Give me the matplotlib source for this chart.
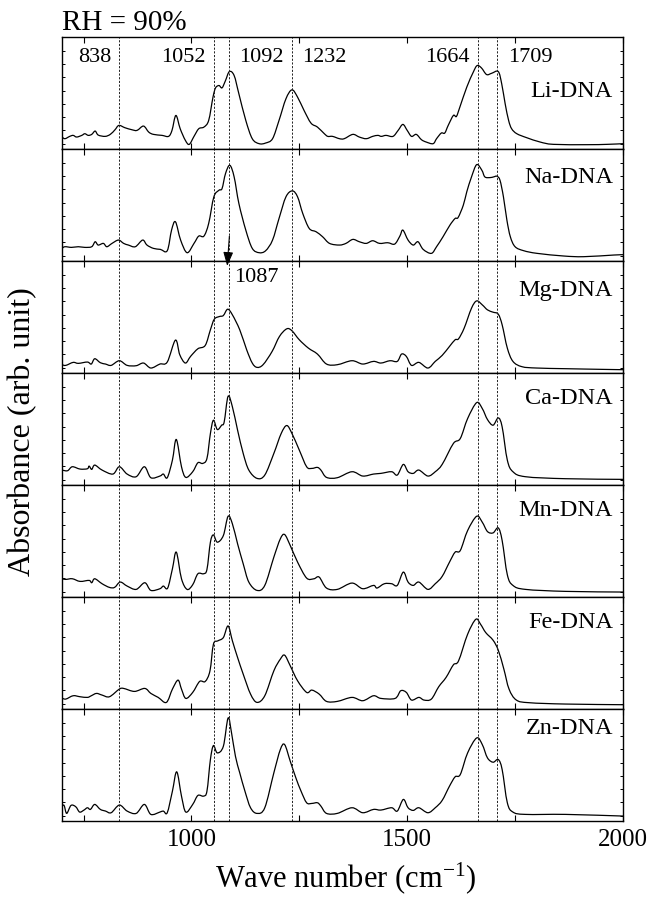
import matplotlib
matplotlib.use('Agg')
import matplotlib.pyplot as plt
from matplotlib.ticker import FixedLocator, NullFormatter
from matplotlib.path import Path
from matplotlib.patches import PathPatch

plt.rcParams['font.family'] = ['Liberation Serif', 'Times New Roman', 'DejaVu Serif']
plt.rcParams['mathtext.fontset'] = 'custom'
plt.rcParams['mathtext.rm'] = 'Liberation Serif'
plt.rcParams['mathtext.it'] = 'Liberation Serif:italic'

# ---- data: (wavenumber cm-1, absorbance arb. unit) ----
li_dna = [(700, 36), (707, 31), (718, 38), (726, 41), (734, 36), (746, 41), (753, 46), (761, 41), (769, 44),
          (777, 54), (784, 42), (800, 38), (812, 44), (823, 58), (832, 71), (846, 64), (862, 58), (874, 56),
          (889, 69), (901, 51), (912, 44), (932, 41), (947, 38), (955, 56), (964, 101), (974, 61), (986, 26),
          (995, 14), (1006, 38), (1017, 61), (1029, 66), (1040, 86), (1050, 156), (1056, 184), (1064, 191),
          (1071, 184), (1079, 206), (1088, 233), (1099, 221), (1110, 166), (1126, 86), (1141, 31), (1157, 16),
          (1172, 18), (1188, 31), (1203, 86), (1219, 151), (1233, 178), (1246, 156), (1261, 116), (1277, 78),
          (1292, 66), (1308, 46), (1316, 38), (1327, 38), (1343, 31), (1354, 31), (1374, 44), (1389, 36),
          (1405, 31), (1420, 38), (1432, 41), (1440, 38), (1451, 41), (1467, 38), (1479, 56), (1490, 74),
          (1500, 56), (1510, 38), (1521, 44), (1533, 28), (1544, 21), (1560, 16), (1568, 31), (1579, 48),
          (1587, 48), (1595, 71), (1607, 101), (1614, 98), (1622, 126), (1638, 186), (1653, 231), (1662, 251),
          (1672, 244), (1684, 224), (1696, 228), (1711, 233), (1719, 196), (1727, 136), (1735, 86), (1742, 61),
          (1754, 46), (1777, 34), (1808, 21), (1839, 14), (1917, 13), (1963, 14), (2000, 16)]

na_dna = [(700, 38), (707, 43), (722, 41), (738, 43), (753, 41), (769, 43), (777, 58), (784, 48), (796, 53),
          (804, 43), (816, 53), (831, 63), (843, 53), (854, 48), (870, 43), (887, 63), (897, 48), (912, 38),
          (928, 35), (944, 31), (954, 93), (963, 118), (975, 63), (990, 25), (1006, 53), (1017, 75), (1029, 75),
          (1040, 113), (1052, 193), (1064, 213), (1071, 218), (1079, 263), (1089, 288), (1099, 253), (1110, 173),
          (1126, 93), (1141, 38), (1157, 25), (1172, 31), (1188, 63), (1203, 128), (1219, 193), (1234, 211),
          (1246, 193), (1258, 143), (1273, 98), (1289, 88), (1304, 73), (1320, 53), (1343, 48), (1358, 53),
          (1374, 65), (1389, 58), (1405, 53), (1420, 61), (1436, 53), (1455, 55), (1471, 51), (1483, 75),
          (1490, 93), (1502, 63), (1514, 48), (1525, 58), (1537, 35), (1556, 23), (1568, 43), (1583, 73),
          (1599, 108), (1611, 128), (1618, 131), (1630, 168), (1638, 208), (1649, 253), (1661, 290), (1673, 273),
          (1680, 253), (1692, 251), (1700, 253), (1708, 255), (1715, 243), (1723, 193), (1731, 123), (1739, 73),
          (1750, 43), (1770, 31), (1801, 23), (1863, 15), (1909, 13), (1979, 18), (2000, 19)]

mg_dna = [(700, 25), (709, 23), (726, 32), (738, 29), (759, 33), (768, 27), (776, 43), (789, 31), (801, 27),
          (814, 23), (833, 37), (851, 23), (872, 22), (889, 30), (906, 15), (927, 27), (944, 33), (963, 99),
          (973, 55), (986, 30), (998, 50), (1015, 73), (1032, 83), (1044, 130), (1053, 162), (1065, 170),
          (1074, 173), (1084, 192), (1095, 175), (1112, 130), (1128, 70), (1141, 30), (1152, 17), (1166, 25),
          (1187, 65), (1204, 110), (1221, 133), (1233, 127), (1250, 100), (1271, 75), (1292, 57), (1313, 27),
          (1338, 25), (1372, 37), (1397, 27), (1422, 35), (1439, 30), (1460, 37), (1477, 35), (1487, 57),
          (1498, 50), (1510, 23), (1527, 32), (1548, 15), (1565, 35), (1581, 53), (1598, 80), (1611, 100),
          (1619, 103), (1632, 135), (1649, 195), (1661, 217), (1674, 205), (1686, 190), (1699, 183), (1711, 177),
          (1720, 145), (1732, 75), (1745, 35), (1766, 19), (1800, 15), (1867, 13), (1951, 11), (2000, 10)]

ca_dna = [(700, 45), (713, 43), (724, 55), (742, 48), (759, 49), (763, 57), (769, 47), (776, 60), (793, 45),
          (818, 33), (833, 55), (851, 33), (872, 25), (891, 55), (906, 22), (927, 27), (935, 33), (944, 22),
          (956, 75), (965, 137), (977, 55), (987, 23), (1003, 40), (1015, 67), (1026, 65), (1036, 80), (1044, 155),
          (1051, 195), (1060, 167), (1070, 180), (1076, 190), (1085, 267), (1095, 235), (1107, 165), (1120, 95),
          (1133, 45), (1152, 20), (1170, 30), (1191, 95), (1208, 155), (1221, 179), (1233, 155), (1250, 105),
          (1267, 55), (1279, 50), (1292, 53), (1300, 45), (1313, 23), (1338, 22), (1372, 40), (1397, 27),
          (1422, 33), (1439, 35), (1464, 40), (1477, 30), (1491, 62), (1502, 40), (1514, 35), (1527, 45),
          (1548, 27), (1565, 40), (1581, 62), (1607, 125), (1623, 140), (1640, 200), (1661, 248), (1674, 230),
          (1686, 197), (1699, 180), (1711, 202), (1720, 175), (1732, 75), (1745, 40), (1774, 25), (1867, 19),
          (2000, 17)]

mn_dna = [(700, 55), (709, 53), (724, 55), (742, 47), (763, 50), (769, 43), (776, 55), (793, 40), (810, 29),
          (822, 29), (835, 45), (851, 33), (872, 23), (892, 43), (906, 20), (927, 25), (935, 33), (945, 27),
          (956, 85), (965, 135), (977, 55), (990, 23), (1003, 37), (1015, 70), (1028, 70), (1036, 83), (1044, 165),
          (1051, 187), (1060, 165), (1074, 185), (1085, 243), (1095, 220), (1107, 160), (1120, 100), (1133, 45),
          (1152, 20), (1170, 35), (1191, 120), (1206, 175), (1216, 188), (1229, 155), (1246, 105), (1267, 57),
          (1284, 55), (1296, 60), (1313, 27), (1338, 23), (1372, 42), (1397, 25), (1422, 35), (1430, 27),
          (1447, 40), (1464, 40), (1477, 35), (1491, 75), (1502, 45), (1514, 35), (1527, 45), (1548, 23),
          (1565, 40), (1581, 62), (1598, 105), (1611, 135), (1623, 140), (1640, 200), (1661, 243), (1674, 225),
          (1686, 197), (1699, 193), (1711, 208), (1720, 170), (1732, 67), (1745, 35), (1774, 23), (1867, 17),
          (2000, 15)]

fe_dna = [(700, 33), (709, 30), (726, 40), (742, 37), (759, 35), (768, 40), (780, 47), (793, 42), (810, 37),
          (833, 60), (843, 62), (868, 53), (892, 62), (906, 47), (923, 35), (942, 20), (956, 60), (969, 87),
          (977, 60), (987, 32), (1003, 50), (1019, 83), (1032, 83), (1043, 115), (1051, 195), (1061, 205),
          (1074, 215), (1085, 250), (1095, 205), (1107, 155), (1120, 105), (1137, 45), (1152, 20), (1170, 40),
          (1191, 115), (1206, 150), (1216, 162), (1229, 130), (1246, 85), (1267, 50), (1279, 57), (1296, 45),
          (1313, 23), (1338, 23), (1372, 35), (1397, 25), (1422, 40), (1439, 32), (1472, 32), (1485, 55),
          (1498, 50), (1510, 27), (1527, 35), (1539, 27), (1556, 30), (1573, 67), (1590, 95), (1607, 133),
          (1619, 145), (1640, 225), (1659, 270), (1670, 255), (1682, 230), (1699, 207), (1711, 177), (1724, 120),
          (1736, 60), (1753, 27), (1783, 19), (1867, 15), (2000, 13)]

zn_dna = [(700, 45), (705, 47), (711, 23), (721, 47), (732, 43), (741, 27), (751, 33), (759, 40), (766, 35),
          (776, 50), (789, 35), (801, 30), (814, 25), (833, 48), (851, 30), (872, 23), (891, 50), (906, 20),
          (927, 27), (935, 30), (944, 25), (956, 90), (966, 148), (977, 75), (987, 27), (1003, 50), (1015, 77),
          (1028, 75), (1036, 90), (1044, 185), (1051, 227), (1060, 205), (1074, 225), (1085, 310), (1093, 265),
          (1102, 195), (1112, 145), (1124, 90), (1137, 40), (1152, 23), (1170, 40), (1191, 145), (1206, 215),
          (1216, 230), (1229, 180), (1242, 130), (1254, 90), (1267, 55), (1279, 53), (1292, 55), (1300, 45),
          (1313, 23), (1338, 23), (1372, 40), (1397, 25), (1422, 35), (1439, 33), (1464, 40), (1477, 30),
          (1491, 65), (1502, 40), (1514, 32), (1527, 40), (1548, 25), (1565, 40), (1581, 62), (1598, 105),
          (1611, 133), (1623, 140), (1640, 205), (1661, 250), (1674, 230), (1686, 190), (1699, 177), (1711, 185),
          (1720, 155), (1732, 55), (1745, 27), (1774, 20), (1867, 20), (2000, 15)]

sample_names = ['Li-DNA', 'Na-DNA', 'Mg-DNA', 'Ca-DNA', 'Mn-DNA', 'Fe-DNA', 'Zn-DNA']
spectra = [li_dna, na_dna, mg_dna, ca_dna, mn_dna, fe_dna, zn_dna]
name_y = [0.51, 0.75, 0.74, 0.77, 0.77, 0.77, 0.83]

marker_pos = [833, 1052, 1087, 1232, 1664, 1709]
marker_text = ['838', '1052', '1092', '1232', '1664', '1709']
marker_text_x = [777, 982, 1161, 1308, 1594, 1785]
marker_text_y = 274

x_major = [1000, 1500, 2000]
x_minor = [750, 1250, 1750]
y_ticks = [16, 56, 96, 136, 176, 216, 256, 296]


def smooth_curve(w, a):
    """Smooth (Catmull-Rom style Bezier) path passing through every read point."""
    verts = [(w[0], a[0])]
    codes = [Path.MOVETO]
    n = len(w)
    for i in range(n - 1):
        p0 = (w[i - 1], a[i - 1]) if i > 0 else (w[i], a[i])
        p1 = (w[i], a[i])
        p2 = (w[i + 1], a[i + 1])
        p3 = (w[i + 2], a[i + 2]) if i + 2 < n else p2
        c1 = (p1[0] + (p2[0] - p0[0]) / 6.0, p1[1] + (p2[1] - p0[1]) / 6.0)
        c2 = (p2[0] - (p3[0] - p1[0]) / 6.0, p2[1] - (p3[1] - p1[1]) / 6.0)
        verts += [c1, c2, p2]
        codes += [Path.CURVE4] * 3
    return Path(verts, codes)


fig = plt.figure(figsize=(6.52, 8.98), dpi=100)
axes = fig.subplots(7, 1, sharex=True,
                    gridspec_kw=dict(hspace=0, left=0.095, right=0.9555, bottom=0.0857, top=0.9588))

for ax, name, pts, ny in zip(axes, sample_names, spectra, name_y):
    w = [p[0] for p in pts]
    a = [p[1] for p in pts]
    ax.add_patch(PathPatch(smooth_curve(w, a), fill=False, edgecolor='black', lw=0.9, joinstyle='round'))
    ax.set_xlim(700, 2000)
    ax.set_ylim(0, 337)
    for v in marker_pos:
        ax.axvline(v, color='#222222', lw=0.7, ls=(0, (2.2, 1.6)))
    ax.text(0.982, ny, name, transform=ax.transAxes, ha='right', va='center', fontsize=17.5)
    ax.xaxis.set_major_locator(FixedLocator(x_major))
    ax.xaxis.set_minor_locator(FixedLocator(x_minor))
    ax.yaxis.set_major_locator(FixedLocator(y_ticks))
    ax.yaxis.set_major_formatter(NullFormatter())
    ax.tick_params(axis='x', which='both', direction='in', top=True, bottom=True, length=4, width=0.8,
                   labelsize=18, pad=6)
    ax.tick_params(axis='y', which='both', direction='in', left=True, right=True, length=2.5, width=0.7)
    for s in ax.spines.values():
        s.set_linewidth(1.0)

for t, tx in zip(marker_text, marker_text_x):
    axes[0].text(tx, marker_text_y, t, ha='center', va='center', fontsize=16)

axes[2].text(1151, 286, '1087', ha='center', va='center', fontsize=16)
axes[2].annotate('', xy=(1083, 322), xycoords=axes[2].transData,
                 xytext=(1088, 75), textcoords=axes[1].transData,
                 arrowprops=dict(arrowstyle='-|>,head_length=0.7,head_width=0.25', color='black', lw=0.8,
                                 mutation_scale=12, shrinkA=0, shrinkB=0),
                 annotation_clip=False)

fig.text(0.095, 1 - 30 / 898, 'RH = 90%', fontsize=21, ha='left', va='baseline')
fig.text(0.531, 1 - 887 / 898, 'Wave number (cm$^{\\mathregular{-1}}$)', fontsize=22, ha='center',
         va='baseline')
fig.text(0.034, 1 - 432 / 898, 'Absorbance (arb. unit)', fontsize=23, ha='center', va='center', rotation=90)

fig.savefig('out.png', dpi=100)
